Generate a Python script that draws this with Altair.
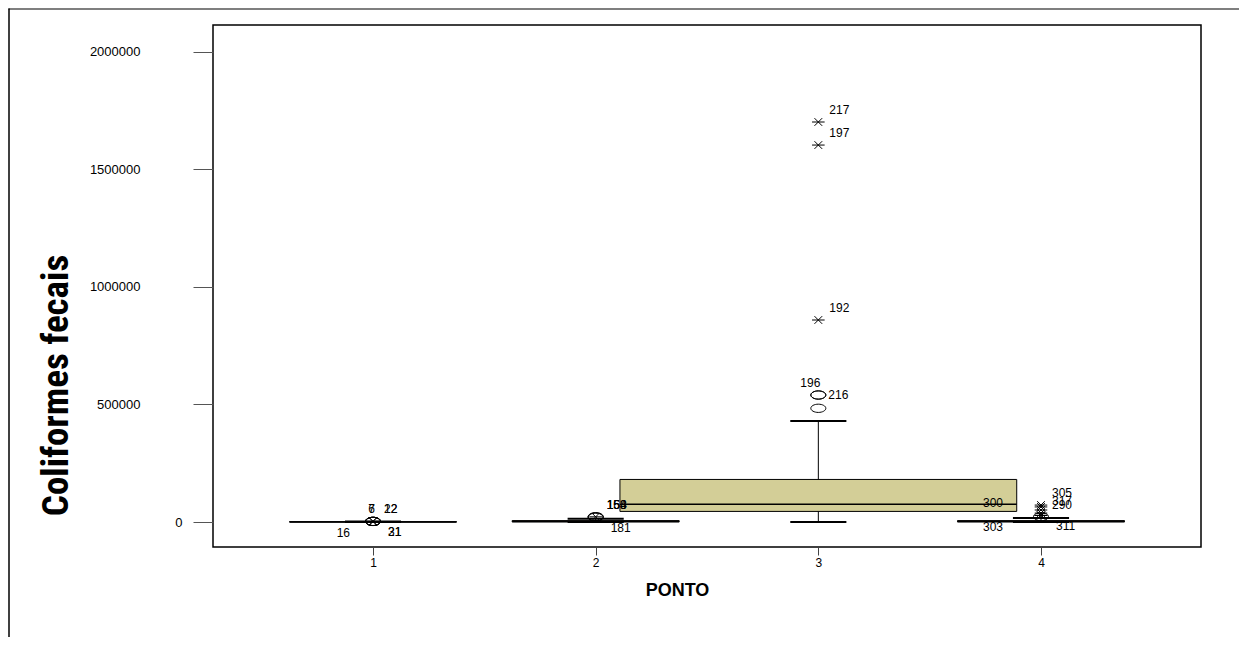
import altair as alt
import pandas as pd

# ---------------- data ----------------
pontos = [1, 2, 3, 4]
q1 = [0, 500, 45000, 500]
mediana = [400, 2500, 75000, 2500]
q3 = [1500, 6000, 181000, 6000]
bigode_inf = [0, 0, 0, 0]
bigode_sup = [2000, 14000, 429500, 17000]

out_ponto = [1, 1, 1, 1, 1, 1, 1,
             2, 2, 2, 2,
             3, 3, 3, 3, 3, 3,
             4, 4, 4, 4, 4, 4, 4, 4]
out_valor = [2500, 2600, 2500, 2600, 2500, 2500, 2400,
             22000, 22500, 21500, 20000,
             1701000, 1603000, 859000, 540000, 540000, 483500,
             72000, 64000, 51000, 38000, 22500, 28000, 28000, 28000]
out_caso = ["6", "7", "22", "12", "16", "31", "21",
            "154", "158", "163", "181",
            "217", "197", "192", "196", "216", "",
            "305", "", "", "317", "290", "300", "303", "311"]
out_tipo = ["circulo", "circulo", "estrela", "circulo", "circulo", "estrela", "circulo",
            "estrela", "circulo", "circulo", "circulo",
            "estrela", "estrela", "estrela", "circulo", "circulo", "circulo",
            "estrela", "estrela", "estrela", "estrela", "circulo", "estrela", "estrela", "estrela"]
out_pos = ["u", "u", "ur", "ur", "ll", "lr", "lr",
           "ur", "ur", "ur", "lr",
           "ur", "ur", "ur", "u", "r", "",
           "ur", "", "", "ur", "ur", "ulf", "llf", "lr"]

y_ticks = [0, 500000, 1000000, 1500000, 2000000]
x_ticks = [1, 2, 3, 4]

# ---------------- style ----------------
BOX_HALF = [0.375, 0.375, 0.891, 0.375]
CAP_HALF = 0.126
BOX_FILL = "#d3ce97"
LABEL_POS = {
    "ur": ("left", 11, -12),
    "r": ("left", 10, 0),
    "u": ("right", 2, -12),
    "lr": ("left", 15, 11),
    "ll": ("right", -23, 12),
    "ulf": ("right", -38, -12),
    "llf": ("right", -38, 12),
}
FONT = "Liberation Sans, Arial, sans-serif"
TITLE_FONT = "Liberation Sans Narrow, Arial Narrow, Roboto Condensed, DejaVu Sans Condensed, Liberation Sans, sans-serif"
ELLIPSE = "M -1 0 A 1 0.55 0 1 0 1 0 A 1 0.55 0 1 0 -1 0 Z"
STAR = "M -0.9 0 L 0.9 0 M -0.55 -0.55 L 0.55 0.55 M -0.55 0.55 L 0.55 -0.55"

box = pd.DataFrame({
    "ponto": pontos, "q1": q1, "med": mediana, "q3": q3,
    "wlo": bigode_inf, "whi": bigode_sup, "hw": BOX_HALF,
})
box["x_lo"] = box["ponto"] - box["hw"]
box["x_hi"] = box["ponto"] + box["hw"]
box["c_lo"] = box["ponto"] - CAP_HALF
box["c_hi"] = box["ponto"] + CAP_HALF

out = pd.DataFrame({"ponto": out_ponto, "valor": out_valor, "caso": out_caso,
                    "tipo": out_tipo, "pos": out_pos})

xscale = alt.Scale(domain=[0.2814, 4.7186], nice=False, zero=False)
yscale = alt.Scale(domain=[-106300, 2113500], nice=False, zero=False)

XAX = alt.Axis(values=x_ticks, format="d", title="PONTO", titleFont=FONT,
               titleFontSize=18, titleFontWeight="bold", titleColor="black",
               titleX=464, titleY=43, titleAlign="center", titleBaseline="middle",
               labelFont=FONT, labelFontSize=12, labelColor="black", labelPadding=2,
               tickSize=8, tickColor="#444", domain=False, grid=False)
YAX = alt.Axis(values=y_ticks, format="d", title="Coliformes fecais", titleFont=TITLE_FONT,
               titleFontSize=37, titleFontWeight="bold", titleColor="black",
               titleAngle=-90, titleX=-157, titleY=360, titleAlign="center",
               titleBaseline="middle",
               labelFont=FONT, labelFontSize=13, labelColor="black",
               labelPadding={"condition": {"test": "datum.value == 0", "value": 11}, "value": 53},
               tickSize=20, tickColor="#555", domain=False, grid=False)

base_box = alt.Chart(box)

rect = base_box.mark_rect(fill=BOX_FILL, stroke="black", strokeWidth=1).encode(
    x=alt.X("x_lo:Q", scale=xscale, axis=XAX), x2="x_hi:Q",
    y=alt.Y("q1:Q", scale=yscale, axis=YAX), y2="q3:Q")

med = base_box.mark_rule(color="black", strokeWidth=1.5).encode(
    x=alt.X("x_lo:Q", scale=xscale, axis=XAX), x2="x_hi:Q",
    y=alt.Y("med:Q", scale=yscale, axis=YAX))

wh_up = base_box.mark_rule(color="black", strokeWidth=1).encode(
    x=alt.X("ponto:Q", scale=xscale, axis=XAX),
    y=alt.Y("q3:Q", scale=yscale, axis=YAX), y2="whi:Q")
wh_dn = base_box.mark_rule(color="black", strokeWidth=1).encode(
    x=alt.X("ponto:Q", scale=xscale, axis=XAX),
    y=alt.Y("wlo:Q", scale=yscale, axis=YAX), y2="q1:Q")
cap_up = base_box.mark_rule(color="black", strokeWidth=2).encode(
    x=alt.X("c_lo:Q", scale=xscale, axis=XAX), x2="c_hi:Q",
    y=alt.Y("whi:Q", scale=yscale, axis=YAX))
cap_dn = base_box.mark_rule(color="black", strokeWidth=2).encode(
    x=alt.X("c_lo:Q", scale=xscale, axis=XAX), x2="c_hi:Q",
    y=alt.Y("wlo:Q", scale=yscale, axis=YAX))

base_out = alt.Chart(out)
circ = base_out.transform_filter("datum.tipo == 'circulo'").mark_point(
    shape=ELLIPSE, size=225, filled=False, color="black", strokeWidth=1, opacity=1).encode(
    x=alt.X("ponto:Q", scale=xscale, axis=XAX),
    y=alt.Y("valor:Q", scale=yscale, axis=YAX))
star = base_out.transform_filter("datum.tipo == 'estrela'").mark_point(
    shape=STAR, size=196, filled=False, color="black", strokeWidth=1, opacity=1).encode(
    x=alt.X("ponto:Q", scale=xscale, axis=XAX),
    y=alt.Y("valor:Q", scale=yscale, axis=YAX))

labels = []
for key, (al, dx, dy) in LABEL_POS.items():
    labels.append(base_out.transform_filter(f"datum.pos == '{key}'").mark_text(
        align=al, baseline="middle", dx=dx, dy=dy, font=FONT, fontSize=12, color="black").encode(
        x=alt.X("ponto:Q", scale=xscale, axis=XAX),
        y=alt.Y("valor:Q", scale=yscale, axis=YAX),
        text="caso:N"))

frame_src = alt.Chart(alt.Data(values=[{"k": 1}]))
frame_top = frame_src.mark_rule(color="#555", strokeWidth=1.5).encode(
    x=alt.value(-204.5), x2=alt.value(1026), y=alt.value(-16))
frame_left = frame_src.mark_rule(color="black", strokeWidth=1.5).encode(
    x=alt.value(-204), y=alt.value(-16.5), y2=alt.value(613))

chart = alt.layer(rect, wh_up, wh_dn, cap_up, cap_dn, med, circ, star, *labels,
                  frame_top, frame_left).properties(
    width=988, height=522,
    padding={"left": 205, "top": 17, "right": 38, "bottom": 90},
    autosize=alt.AutoSizeParams(type="none"),
).configure(
    background="white",
    view=alt.ViewConfig(stroke="black", strokeWidth=1.5),
)

chart.save("out.html", embed_options={"renderer": "svg", "actions": False})
